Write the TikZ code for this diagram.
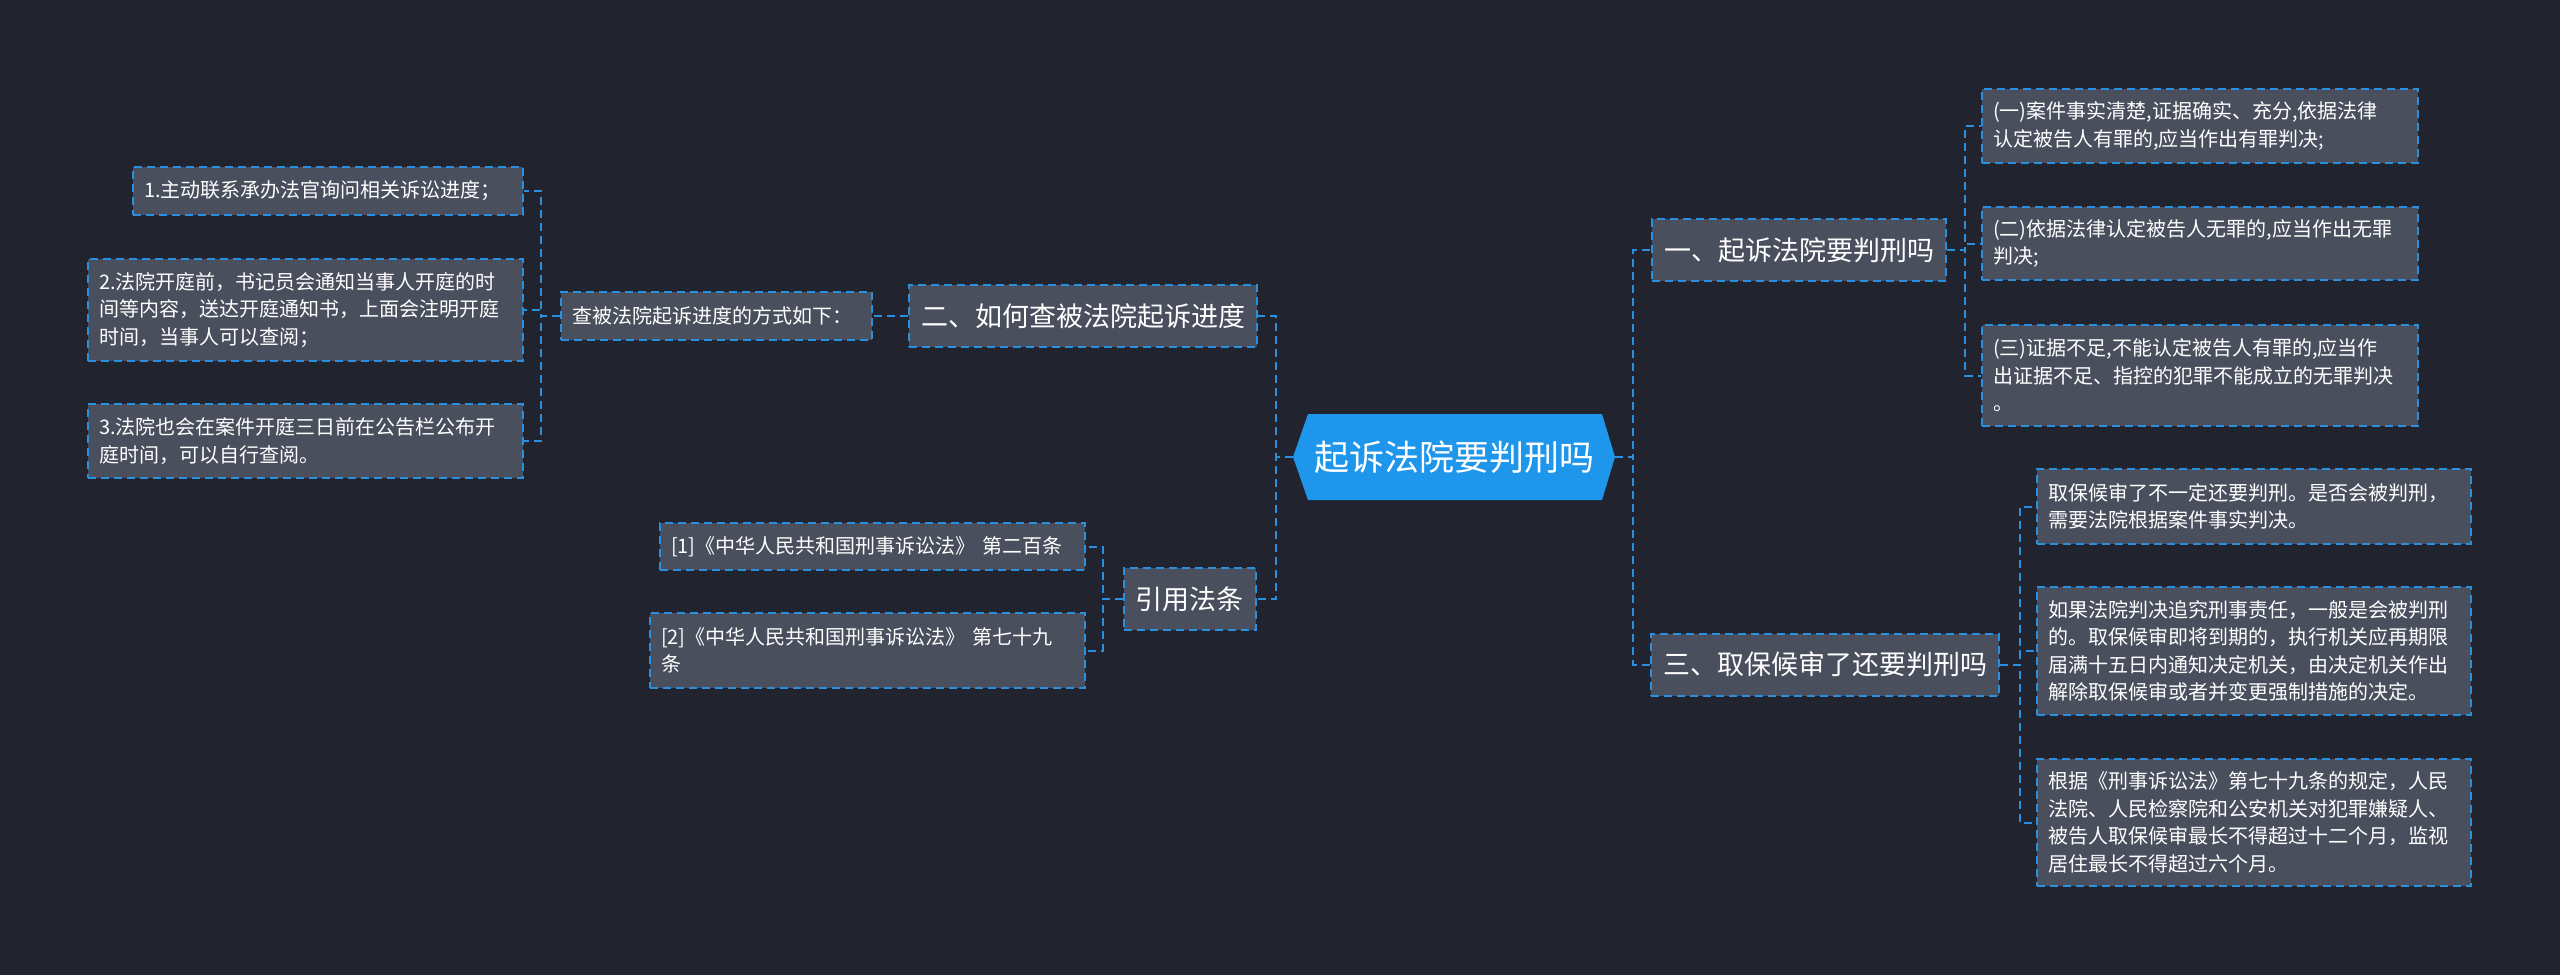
\documentclass[tikz,border=0pt]{standalone}
\usepackage{fontspec}
\setmainfont{Noto Sans CJK SC}
\definecolor{bgnavy}{HTML}{21242F}
\definecolor{boxgray}{HTML}{4A4F5E}
\definecolor{lineblue}{HTML}{2A8FDE}
\definecolor{rootblue}{HTML}{1E96EC}

\begin{document}
\begin{tikzpicture}[x=1pt, y=-1pt,
        link/.style={draw=lineblue, line width=2pt, dash pattern=on 8pt off 5pt},
        card/.style={draw=lineblue, line width=2pt, dash pattern=on 8pt off 5pt, fill=boxgray, text=white, align=left, inner xsep=11pt, inner ysep=0pt, font=\fontsize{20}{27.5}\selectfont},
        topic/.style={card, inner xsep=12pt, minimum height=62pt, font=\fontsize{27}{32}\selectfont}]
        % Background
        \fill[bgnavy] (0,0) rectangle (2560,975);
        \useasboundingbox (0,0) rectangle (2560,975);

        % Root (hexagon)
        \fill[rootblue] (1293,457) -- (1308,414) -- (1602,414) -- (1615,457) -- (1602,500) -- (1308,500) -- cycle;
        \node[text=white, font=\fontsize{35}{40}\selectfont, minimum width=322pt, minimum height=86pt] (root) at (1454,457) {起诉法院要判刑吗};

        % Main topics
        \node[topic] (b1) at (1799,250) {一、起诉法院要判刑吗};
        \node[topic] (b3) at (1825,664.5) {三、取保候审了还要判刑吗};
        \node[topic] (b2) at (1083,316) {二、如何查被法院起诉进度};
        \node[topic] (b4) at (1189.5,599) {引用法条};

        % Right leaves
        \node[card, text width=414pt, minimum height=74pt] (r1) at (2200,126) {(一)案件事实清楚,证据确实、充分,依据法律\\认定被告人有罪的,应当作出有罪判决;};
        \node[card, text width=414pt, minimum height=73pt] (r2) at (2200,243.5) {(二)依据法律认定被告人无罪的,应当作出无罪\\判决;};
        \node[card, text width=414pt, minimum height=101pt] (r3) at (2200,375.5) {(三)证据不足,不能认定被告人有罪的,应当作\\出证据不足、指控的犯罪不能成立的无罪判决\\。};
        \node[card, text width=412pt, minimum height=75pt] (s1) at (2254,506.5) {取保候审了不一定还要判刑。是否会被判刑，\\需要法院根据案件事实判决。};
        \node[card, text width=412pt, minimum height=128pt] (s2) at (2254,651) {如果法院判决追究刑事责任，一般是会被判刑\\的。取保候审即将到期的，执行机关应再期限\\届满十五日内通知决定机关，由决定机关作出\\解除取保候审或者并变更强制措施的决定。};
        \node[card, text width=412pt, minimum height=127pt] (s3) at (2254,822.5) {根据《刑事诉讼法》第七十九条的规定，人民\\法院、人民检察院和公安机关对犯罪嫌疑人、\\被告人取保候审最长不得超过十二个月，监视\\居住最长不得超过六个月。};

        % Left leaves
        \node[card, text width=289pt, minimum height=48pt] (way) at (716.5,316) {查被法院起诉进度的方式如下：};
        \node[card, text width=368pt, minimum height=48pt] (l1) at (328,191) {1.主动联系承办法官询问相关诉讼进度；};
        \node[card, text width=413pt, minimum height=102pt] (l2) at (305.5,310) {2.法院开庭前，书记员会通知当事人开庭的时\\间等内容，送达开庭通知书，上面会注明开庭\\时间，当事人可以查阅；};
        \node[card, text width=413pt, minimum height=74pt] (l3) at (305.5,441) {3.法院也会在案件开庭三日前在公告栏公布开\\庭时间，可以自行查阅。};
        \node[card, text width=403pt, minimum height=47pt] (law1) at (872.5,546.5) {[1]《中华人民共和国刑事诉讼法》 第二百条};
        \node[card, text width=413pt, minimum height=75pt] (law2) at (867.5,650.5) {[2]《中华人民共和国刑事诉讼法》 第七十九\\条};

        % Connectors
        \foreach \c in {b1,b3} \draw[link] (root.east) -- ++(18,0) |- (\c.west);
        \foreach \c in {b2,b4} \draw[link] (root.west) -- ++(-17,0) |- (\c.east);
        \foreach \c in {r1,r2,r3} \draw[link] (b1.east) -- ++(18,0) |- (\c.west);
        \foreach \c in {s1,s2,s3} \draw[link] (b3.east) -- ++(20,0) |- (\c.west);
        \draw[link] (b2.west) -- (way.east);
        \foreach \c in {l1,l2,l3} \draw[link] (way.west) -- ++(-19,0) |- (\c.east);
        \foreach \c in {law1,law2} \draw[link] (b4.west) -- ++(-20,0) |- (\c.east);
    \end{tikzpicture}
\end{document}
